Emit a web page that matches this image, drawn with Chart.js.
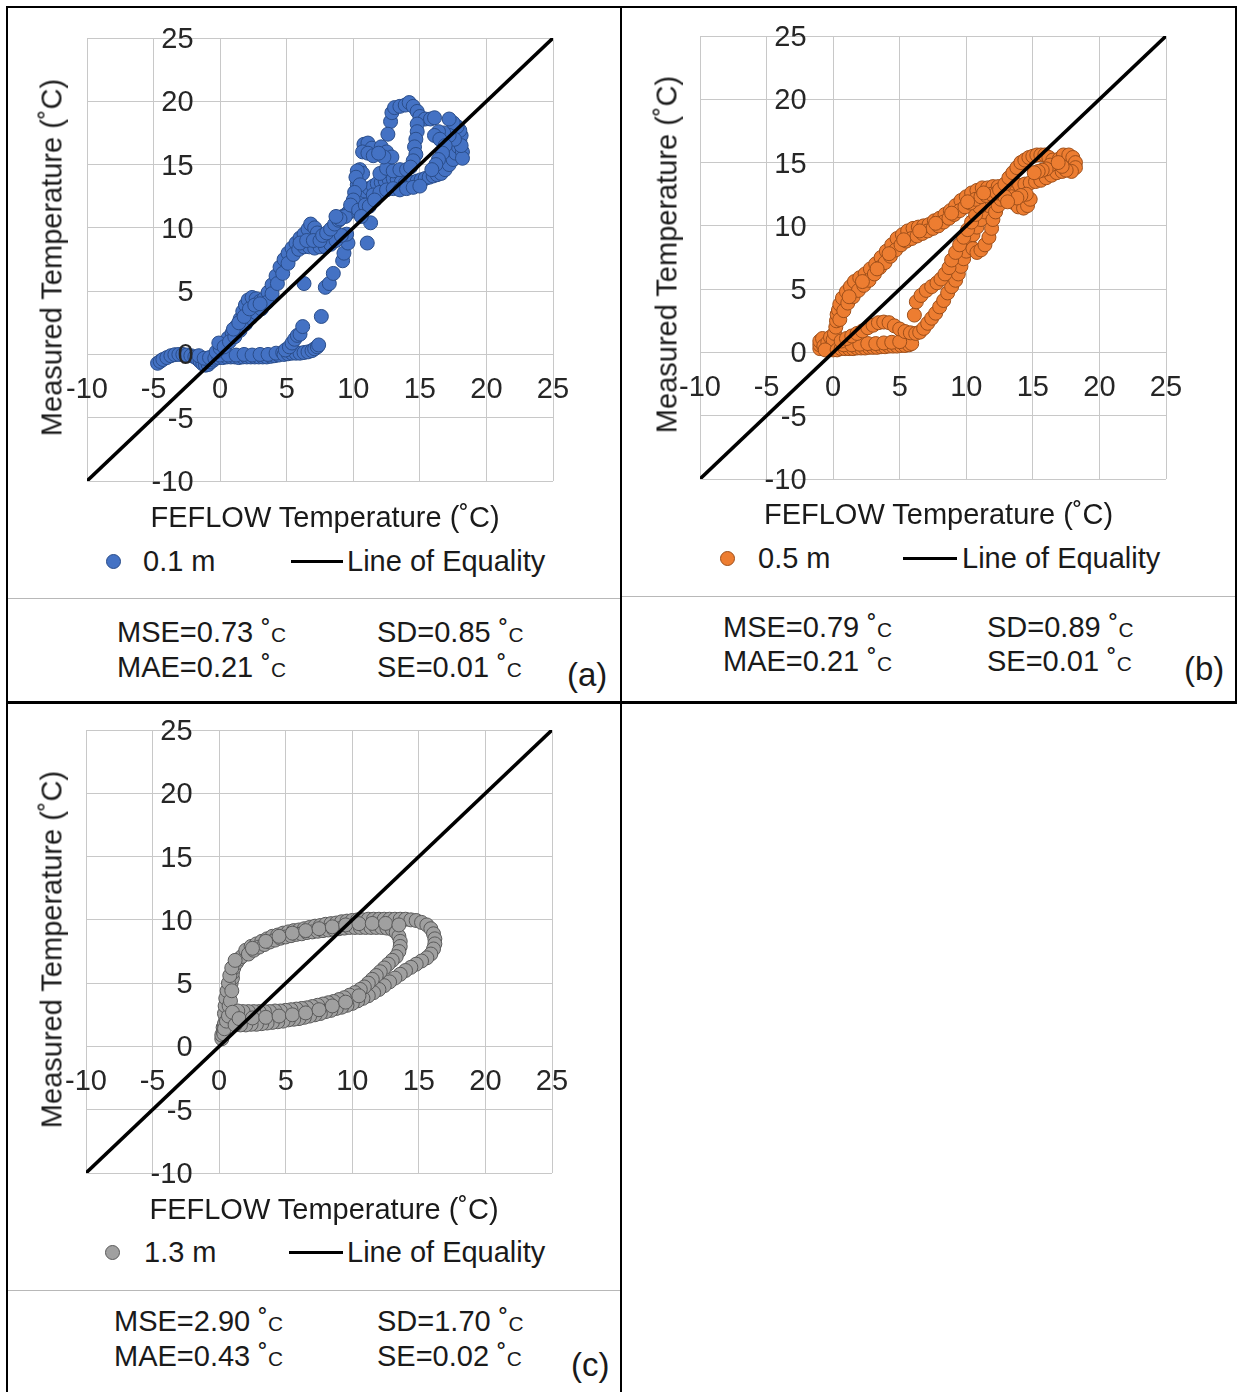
<!DOCTYPE html>
<html><head><meta charset="utf-8">
<script src="https://cdn.jsdelivr.net/npm/chart.js@4.4.1/dist/chart.umd.min.js"></script>
<style>
html,body{margin:0;padding:0;background:#fff;}
body{width:1246px;height:1392px;position:relative;overflow:hidden;font-family:"Liberation Sans",Arial,sans-serif;color:#1a1a1a;}
canvas{position:absolute;}
.t{position:absolute;font-size:29px;line-height:29px;white-space:nowrap;}
.ctr{width:600px;text-align:center;}
.rot{width:600px;height:29px;text-align:center;transform:rotate(-90deg);transform-origin:50% 50%;}
.tag{font-size:33px;line-height:33px;}
.bl{position:absolute;background:#000;}
.gl{position:absolute;background:#b8b8b8;height:1px;}
.dot{position:absolute;width:15px;height:15px;border-radius:50%;box-sizing:border-box;border:1px solid;}
.ln{position:absolute;height:3px;background:#000;}
.u{font-size:0.72em;}
</style></head><body>
<div class="bl" style="left:6px;top:6px;width:1231px;height:2px"></div>
<div class="bl" style="left:6px;top:6px;width:2px;height:1386px"></div>
<div class="bl" style="left:620px;top:6px;width:2px;height:1386px"></div>
<div class="bl" style="left:1235px;top:6px;width:2px;height:697px"></div>
<div class="bl" style="left:6px;top:701px;width:1231px;height:3px"></div>
<script>
// ---------------- DATA ----------------
const tickValues = [-10, -5, 0, 5, 10, 15, 20, 25];
const equalityLine = [-10, 25];
const seriesNames = ['0.1 m', '0.5 m', '1.3 m'];
const lineLabel = 'Line of Equality';
const xTitleText = 'FEFLOW Temperature (˚C)';
const yTitleText = 'Measured Temperature (˚C)';
const statsMSE = ['0.73', '0.79', '2.90'];
const statsMAE = ['0.21', '0.21', '0.43'];
const statsSD = ['0.85', '0.89', '1.70'];
const statsSE = ['0.01', '0.01', '0.02'];
const panelTags = ['(a)', '(b)', '(c)'];

// FEFLOW (x) vs measured (y), 0.1 m
const depth01m = [
[-4.7,-0.7],[-4.5,-0.55],[-4.3,-0.4],[-4.0,-0.25],[-3.7,-0.1],[-3.4,-0.02],[-3.1,0],[-2.8,0],[-2.5,-0.05],[-2.2,-0.1],
[-1.9,-0.2],[-1.7,-0.35],[-1.5,-0.55],[-1.3,-0.75],[-1.1,-0.85],[-0.9,-0.8],[-0.7,-0.6],[-0.5,-0.45],[-1.6,-0.1],[-1.2,-0.3],[-0.8,-0.25],
[-0.4,-0.3],[-0.1,-0.25],[0.2,-0.25],[0.5,-0.2],[0.8,-0.2],[1.1,-0.2],[1.4,-0.25],[1.7,-0.2],[2.0,-0.2],[2.3,-0.2],
[2.6,-0.2],[2.9,-0.2],[3.2,-0.2],[3.5,-0.2],[3.8,-0.15],[4.1,-0.1],[4.4,-0.05],
[0.0,-0.05],[0.6,-0.05],[1.2,-0.05],[1.8,0.0],[2.4,-0.05],[3.0,0.0],[3.6,0.0],[4.2,0.1],[4.7,0.15],
[4.8,0.0],[5.1,0.05],[5.4,0.1],[5.7,0.1],[6.0,0.1],[6.3,0.15],[6.6,0.2],[6.9,0.3],[7.1,0.45],[7.3,0.6],[7.4,0.75],
[4.9,0.35],[5.2,0.6],[5.4,0.9],[5.6,1.2],[5.8,1.5],[6.0,1.6],[6.2,2.2],
[7.6,3.0],[7.9,5.3],[8.2,5.6],[8.5,6.4],[9.2,7.4],[9.3,8.0],[9.6,8.8],[9.5,9.5],[6.3,5.6],
[-0.3,0.2],[0.0,0.5],[0.3,0.9],[0.6,1.3],[0.9,1.7],[1.2,2.2],[1.5,2.8],[1.7,3.4],[1.9,3.9],[2.1,4.3],[2.4,4.5],[2.7,4.4],
[3.0,4.2],[3.3,4.4],[3.6,4.9],[3.9,5.5],[4.2,6.2],[4.5,6.9],[4.8,7.5],[5.1,8.0],[5.4,8.4],[5.7,8.8],[6.0,9.2],[6.3,9.5],
[6.6,9.9],[6.8,10.3],[7.1,10.0],[7.3,9.6],
[-0.1,0.9],[0.3,0.6],[0.7,1.0],[1.1,1.4],[1.5,1.9],[1.9,2.4],[2.3,2.9],[2.7,3.3],[3.1,3.6],[3.5,4.1],[3.9,4.8],[4.3,5.6],
[4.7,6.4],[5.1,7.2],[5.5,7.9],[5.9,8.3],[6.3,8.5],[6.7,8.5],[7.1,8.4],[7.5,8.5],[7.9,8.5],[8.3,8.7],[8.7,9.0],[9.1,9.4],
[1.0,2.0],[1.4,2.5],[1.8,3.0],[2.2,3.6],[2.6,3.9],[3.0,4.0],[6.0,8.8],[6.5,9.0],[7.0,9.0],[7.5,9.0],[7.7,9.4],
[8.0,9.6],[8.3,9.9],[8.6,10.3],[8.9,10.6],[9.2,10.9],[9.5,11.1],[9.8,11.3],[10.0,11.8],[10.1,12.3],[10.2,12.9],[10.3,13.4],[10.4,14.0],[10.5,14.6],[10.7,14.3],
[10.6,12.6],[10.9,12.9],[11.2,13.1],[11.5,13.3],[11.8,13.5],[12.1,13.6],[12.4,13.7],[12.7,13.8],[13.0,13.9],[13.3,13.8],
[13.6,13.6],[13.9,13.5],[14.2,13.5],[14.5,13.6],[14.8,13.7],[15.1,13.8],[15.4,13.9],[15.7,14.0],[16.0,14.1],[16.3,14.2],
[16.6,14.3],[16.9,14.6],[17.2,15.0],[17.5,15.4],[17.7,15.9],[17.9,16.4],[18.0,16.9],[18.1,17.3],[18.0,17.7],[17.8,18.0],[17.5,18.3],[17.2,18.6],
[11.5,12.6],[12.0,12.8],[12.5,13.0],[13.0,13.1],[13.5,13.0],[14.0,13.1],[14.5,13.2],[15.0,13.3],
[12.0,14.3],[12.5,14.7],[13.0,14.5],[13.5,14.6],[14.0,14.6],
[18.2,16.0],[18.2,15.5],[18.1,16.5],[17.6,17.0],[17.2,17.3],[16.8,17.5],[16.4,17.6],[16.1,17.3],[16.5,17.0],[16.9,16.5],
[16.7,15.9],[16.4,15.4],[16.2,15.0],[15.9,14.6],
[12.8,18.4],[12.9,19.1],[13.1,19.5],[13.5,19.6],[13.9,19.7],[14.2,19.9],[14.5,19.6],[14.8,19.2],[15.0,18.8],[15.4,18.6],[15.8,18.6],[16.1,18.7],
[14.8,18.2],[14.8,17.6],[14.7,17.0],[14.6,16.4],[14.7,15.8],[14.5,15.3],[14.3,14.8],
[10.8,16.6],[11.1,16.7],[11.4,16.3],[10.7,16.0],[11.1,15.9],[11.5,15.7],[12.1,16.4],[12.5,16.0],[12.9,15.6],[12.3,15.6],[12.6,17.4],[11.9,15.9],
[10.3,14.5],[10.2,14.0],[10.5,13.4],[10.1,12.8],[10.0,12.2],[9.7,11.3],[9.4,10.9],[9.0,10.7],[8.7,10.9],[9.8,11.8],
[10.4,11.4],[10.9,11.8],[11.2,11.7],[11.6,12.2],[11.3,10.4],[11.05,8.8],[10.6,10.9]
];

// 0.5 m
const depth05m = [
[-1.0,0.3],[-1.0,0.6],[-1.0,0.9],[-0.8,1.1],[-0.7,0.5],[-0.5,0.3],[-0.4,0.8],[-0.2,1.2],[-0.2,0.4],[0.0,0.2],[0.1,0.6],
[0.0,1.0],[-0.6,0.2],[0.1,1.5],[0.2,2.0],[0.25,2.5],[0.3,3.0],[0.4,3.35],
[0.3,0.2],[0.6,0.3],[0.9,0.3],[1.2,0.3],[1.5,0.3],[1.8,0.35],[2.1,0.35],[2.4,0.35],[2.7,0.4],[3.0,0.4],[3.3,0.4],[3.6,0.45],
[3.9,0.45],[4.2,0.5],[4.5,0.5],[4.8,0.5],[5.1,0.55],[5.4,0.55],[5.7,0.6],[5.9,0.7],
[0.8,0.6],[1.4,0.6],[2.0,0.65],[2.6,0.7],[3.2,0.7],[3.8,0.75],[4.4,0.8],[5.0,0.85],
[0.6,0.9],[1.0,1.1],[1.4,1.3],[1.8,1.5],[2.2,1.7],[2.6,1.95],[3.0,2.15],[3.4,2.35],[3.8,2.4],[4.2,2.35],[4.6,2.1],
[5.0,1.85],[5.4,1.65],[5.8,1.55],[6.2,1.5],
[6.5,1.6],[6.8,1.9],[7.1,2.3],[7.4,2.7],[7.7,3.1],[8.0,3.6],[8.3,4.1],[8.6,4.7],[8.9,5.2],[9.2,5.7],[9.4,6.2],[9.6,6.8],
[9.8,7.4],[10.0,8.0],[10.2,8.7],[10.5,9.3],[10.8,9.9],[11.1,10.5],[11.4,11.1],[11.7,11.6],
[6.1,2.95],[6.25,4.0],[6.6,4.5],[7.0,4.9],[7.4,5.2],[7.8,5.5],[8.1,5.8],[8.4,6.2],[8.7,6.7],[8.9,7.3],[9.2,7.9],[9.5,8.5],
[9.8,9.1],[10.1,9.7],[10.4,10.3],[10.7,10.9],[11.0,11.5],
[10.5,8.2],[10.8,7.9],[11.1,8.1],[11.4,8.5],[11.7,9.1],[11.9,9.8],[12.0,10.5],[12.2,11.1],[12.4,11.6],[12.6,12.1],[12.8,12.6],
[0.5,3.8],[0.7,4.3],[1.0,4.8],[1.3,5.2],[1.6,5.6],[2.0,5.9],[2.4,6.2],[2.8,6.6],[3.2,7.0],[3.6,7.5],[4.0,8.0],[4.4,8.5],
[4.8,9.0],[5.2,9.3],[5.6,9.6],[6.0,9.8],[6.4,9.9],[6.8,10.0],[7.2,10.1],[7.6,10.4],[8.0,10.6],[8.4,10.9],[8.8,11.2],[9.2,11.6],
[9.6,12.0],[10.0,12.3],[10.4,12.6],[10.8,12.8],[11.2,13.0],[11.6,13.0],[12.0,13.1],[12.4,13.1],[12.8,13.0],[13.2,13.0],
[13.6,13.1],[14.0,13.2],[14.4,13.3],[14.8,13.4],[15.2,13.5],[15.6,13.6],[16.0,13.8],[16.4,14.0],[16.8,14.2],[17.2,14.3],[17.6,14.5],[17.9,14.7],
[0.5,2.6],[0.8,3.3],[1.1,3.9],[1.5,4.4],[1.9,4.9],[2.3,5.3],[2.7,5.7],[3.1,6.2],[3.5,6.7],[3.9,7.1],[4.3,7.6],[4.7,8.1],
[5.1,8.5],[5.5,8.8],[5.9,9.0],[6.3,9.2],[6.7,9.4],[7.1,9.6],[7.5,9.8],[7.9,10.0],[8.3,10.3],[8.7,10.6],[9.1,10.9],[9.5,11.2],
[9.9,11.5],[10.3,11.8],[10.7,12.1],[11.1,12.3],[11.5,12.4],[11.9,12.5],[12.3,12.6],[12.7,12.7],[13.1,12.7],
[1.2,4.4],[2.2,5.6],[3.3,6.6],[4.2,7.8],[5.3,8.9],[6.5,9.6],[7.7,10.2],[8.9,11.0],[10.1,11.9],[11.3,12.6],[12.5,12.85],
[12.9,13.3],[13.2,13.8],[13.5,14.2],[13.8,14.6],[14.1,15.0],[14.4,15.2],[14.7,15.4],[15.0,15.5],[15.3,15.6],[15.6,15.6],
[15.9,15.6],[16.2,15.4],[16.5,15.2],[16.3,14.8],[16.0,14.5],[15.7,14.4],[15.4,14.3],[15.1,14.2],
[17.0,15.3],[17.3,15.6],[17.7,15.6],[18.0,15.4],[18.2,15.0],[18.2,14.6],[17.9,14.3],[17.5,14.4],[17.2,14.7],[16.9,15.0],
[13.4,12.3],[13.6,11.8],[13.9,11.5],[14.3,11.4],[14.6,11.6],[14.8,12.1],[14.5,12.5],[14.1,12.4],[13.8,12.2],[12.9,12.3],[13.1,11.9]
];

// 1.3 m
const depth13m = [
[0.2,0.6],[0.2,0.9],[0.3,1.2],[0.3,1.5],[0.4,1.8],[0.5,2.2],[0.5,2.6],[0.6,3.0],[0.6,3.4],[0.7,3.8],[0.8,4.2],[0.8,4.6],
[0.9,5.0],[1.0,5.4],[1.0,5.8],[1.1,6.2],[1.3,6.6],[1.5,6.9],[1.7,7.1],
[0.4,2.6],[0.45,3.2],[0.5,3.8],[0.6,4.4],[0.7,5.0],[0.8,5.6],[0.95,6.2],[1.2,6.8],
[0.35,1.0],[0.4,1.4],[0.55,2.0],[0.7,2.4],[0.75,3.2],[0.85,3.6],[0.95,4.4],
[2.0,7.6],[2.4,7.9],[2.8,8.1],[3.2,8.3],[3.6,8.5],[4.0,8.7],[4.4,8.8],[4.8,8.95],[5.2,9.05],[5.6,9.15],[6.0,9.2],[6.4,9.3],
[6.8,9.4],[7.2,9.5],[7.6,9.55],[8.0,9.65],[8.4,9.7],[8.8,9.75],[9.2,9.85],[9.6,9.9],[10.0,9.95],[10.4,10.0],[10.8,10.0],
[11.2,10.05],[11.6,10.05],[12.0,10.05],[12.4,10.05],[12.8,10.05],[13.2,10.05],[13.6,10.05],[14.0,10.05],[14.4,10.0],[14.8,9.95],
[15.2,9.8],[15.6,9.6],[15.9,9.3],[16.1,8.9],[16.2,8.5],[16.2,8.1],[16.1,7.7],[15.9,7.3],[15.6,7.0],[15.2,6.75],[14.8,6.5],
[14.4,6.25],[14.0,6.0],[13.6,5.7],[13.2,5.4],[12.8,5.1],[12.4,4.8],[12.0,4.5],[11.6,4.25],[11.2,4.0],[10.8,3.8],[10.4,3.6],
[10.0,3.4],[9.6,3.25],[9.2,3.1],[8.8,3.0],[8.4,2.85],[8.0,2.75],[7.6,2.6],[7.2,2.5],[6.8,2.4],[6.4,2.3],[6.0,2.2],[5.6,2.15],
[5.2,2.1],[4.8,2.0],[4.4,1.95],[4.0,1.9],[3.6,1.85],[3.2,1.8],[2.8,1.75],[2.4,1.75],[2.0,1.7],[1.6,1.7],[1.2,1.7],
[2.2,7.3],[2.6,7.6],[3.0,7.85],[3.4,8.05],[3.8,8.25],[4.2,8.4],[4.6,8.55],[5.0,8.65],[5.4,8.75],[5.8,8.85],[6.2,8.9],
[6.6,9.0],[7.0,9.05],[7.4,9.1],[7.8,9.15],[8.2,9.2],[8.6,9.25],[9.0,9.3],[9.4,9.35],[9.8,9.4],[10.2,9.4],[10.6,9.4],
[11.0,9.4],[11.4,9.4],[11.8,9.4],[12.2,9.4],[12.6,9.35],[13.0,9.25],[13.3,9.0],[13.5,8.7],[13.6,8.3],[13.6,7.9],[13.5,7.5],
[13.3,7.1],[13.0,6.8],[12.7,6.5],[12.4,6.2],[12.1,5.9],[11.8,5.6],[11.5,5.3],[11.2,5.0],[10.9,4.7],[10.6,4.5],[10.2,4.25],
[9.8,4.05],[9.4,3.85],[9.0,3.7],[8.6,3.55],[8.2,3.45],[7.8,3.35],[7.4,3.25],[7.0,3.15],[6.6,3.05],[6.2,3.0],[5.8,2.95],
[5.4,2.9],[5.0,2.85],[4.6,2.8],[4.2,2.8],[3.8,2.75],[3.4,2.75],[3.0,2.75],[2.6,2.75],[2.2,2.75],[1.8,2.75],[1.4,2.8],[1.0,2.7],
[2.5,7.75],[3.5,8.3],[4.5,8.7],[5.5,8.95],[6.5,9.15],[7.5,9.3],[8.5,9.45],[9.5,9.6],[10.5,9.7],[11.5,9.72],[12.5,9.72],[13.5,9.6],
[1.5,2.2],[2.5,2.25],[3.5,2.3],[4.5,2.4],[5.5,2.5],[6.5,2.65],[7.5,2.9],[8.5,3.2],[9.5,3.5],[10.5,4.0]
];

// ---------------- LAYOUT ----------------
const FONT = '"Liberation Sans", Arial, sans-serif';
const panels = [
  {data: depth01m, fill: '#4472c4', edge: '#2a4d8a',
   canvas: {left: 7, top: 8, w: 613, h: 520}, area: {left: 87, top: 38, right: 553, bottom: 481},
   xt: {cx: 325, cy: 517}, yt: {cx: 51.5, cy: 257}, lg: {cy: 561, dot: 113, name: 143, l1: 291, l2: 343, text: 347},
   st: {y1: 632.5, y2: 667.5, c1: 117, c2: 377}, tag: {x: 567, cy: 677}, div: {y: 598, x1: 8, x2: 620}},
  {data: depth05m, fill: '#ed7d31', edge: '#9e4f1a',
   canvas: {left: 622, top: 6, w: 613, h: 520}, area: {left: 700, top: 36, right: 1166, bottom: 479},
   xt: {cx: 938.5, cy: 514}, yt: {cx: 666.5, cy: 254.5}, lg: {cy: 558, dot: 727, name: 758, l1: 903, l2: 957, text: 962},
   st: {y1: 627, y2: 661.5, c1: 723, c2: 987}, tag: {x: 1184, cy: 671}, div: {y: 596, x1: 622, x2: 1235}},
  {data: depth13m, fill: '#a0a0a0', edge: '#5a5a5a',
   canvas: {left: 7, top: 704, w: 613, h: 520}, area: {left: 86, top: 730, right: 552, bottom: 1173},
   xt: {cx: 324, cy: 1209}, yt: {cx: 51.5, cy: 949.5}, lg: {cy: 1252, dot: 112.5, name: 144, l1: 289, l2: 343, text: 347},
   st: {y1: 1321, y2: 1356, c1: 114, c2: 377}, tag: {x: 571, cy: 1367}, div: {y: 1290, x1: 8, x2: 620}}
];

function addDiv(cls, html, style) {
  const d = document.createElement('div');
  d.className = cls; d.innerHTML = html;
  Object.assign(d.style, style);
  document.body.appendChild(d);
  return d;
}

panels.forEach((p, i) => {
  const cv = document.createElement('canvas');
  cv.width = p.canvas.w; cv.height = p.canvas.h;
  Object.assign(cv.style, {left: p.canvas.left + 'px', top: p.canvas.top + 'px', width: p.canvas.w + 'px', height: p.canvas.h + 'px'});
  document.body.appendChild(cv);
  const pad = {
    left: p.area.left - p.canvas.left,
    top: p.area.top - p.canvas.top,
    right: p.canvas.left + p.canvas.w - p.area.right,
    bottom: p.canvas.top + p.canvas.h - p.area.bottom
  };
  const tickCfg = {
    autoSkip: false, maxRotation: 0, minRotation: 0, z: 1,
    font: {family: FONT, size: 29}, color: '#262626',
    callback: v => String(v)
  };
  const setTicks = axis => { axis.ticks = tickValues.map(v => ({value: v})); };
  new Chart(cv, {
    type: 'scatter',
    data: {
      datasets: [
        {label: lineLabel, data: equalityLine.map(v => ({x: v, y: v})), showLine: true,
         borderColor: '#000', borderWidth: 3.5, pointRadius: 0, order: 0},
        {label: seriesNames[i], data: p.data.map(([x, y]) => ({x, y})),
         backgroundColor: p.fill, borderColor: p.edge, borderWidth: 1, pointRadius: 7, order: 1}
      ]
    },
    options: {
      responsive: false, animation: false, devicePixelRatio: 1,
      layout: {padding: pad},
      plugins: {legend: {display: false}, tooltip: {enabled: false}},
      scales: {
        x: {type: 'linear', min: tickValues[0], max: tickValues[tickValues.length - 1], position: {y: 0},
            afterBuildTicks: setTicks,
            ticks: Object.assign({padding: 18}, tickCfg),
            grid: {color: '#c8c8c8', lineWidth: 1, drawTicks: false},
            border: {display: true, color: '#c8c8c8', width: 1}},
        y: {type: 'linear', min: tickValues[0], max: tickValues[tickValues.length - 1], position: {x: -2},
            afterBuildTicks: setTicks,
            ticks: Object.assign({padding: 0, labelOffset: 2}, tickCfg),
            grid: {color: '#c8c8c8', lineWidth: 1, drawTicks: false},
            border: {display: false}}
      }
    }
  });

  // axis titles
  addDiv('t ctr', xTitleText, {left: (p.xt.cx - 300) + 'px', top: (p.xt.cy - 14.1) + 'px'});
  addDiv('t rot', yTitleText, {left: (p.yt.cx - 300) + 'px', top: (p.yt.cy - 14.5) + 'px'});
  // legend
  addDiv('dot', '', {left: (p.lg.dot - 7.5) + 'px', top: (p.lg.cy - 7.5) + 'px', background: p.fill, borderColor: p.edge});
  addDiv('t', seriesNames[i], {left: p.lg.name + 'px', top: (p.lg.cy - 14.1) + 'px'});
  addDiv('ln', '', {left: p.lg.l1 + 'px', width: (p.lg.l2 - p.lg.l1) + 'px', top: (p.lg.cy - 1.5) + 'px'});
  addDiv('t', lineLabel, {left: p.lg.text + 'px', top: (p.lg.cy - 14.1) + 'px'});
  // divider
  addDiv('gl', '', {left: p.div.x1 + 'px', width: (p.div.x2 - p.div.x1) + 'px', top: p.div.y + 'px'});
  // stats
  const unit = ' ˚<span class="u">C</span>';
  addDiv('t', 'MSE=' + statsMSE[i] + unit, {left: p.st.c1 + 'px', top: (p.st.y1 - 14.1) + 'px'});
  addDiv('t', 'MAE=' + statsMAE[i] + unit, {left: p.st.c1 + 'px', top: (p.st.y2 - 14.1) + 'px'});
  addDiv('t', 'SD=' + statsSD[i] + unit, {left: p.st.c2 + 'px', top: (p.st.y1 - 14.1) + 'px'});
  addDiv('t', 'SE=' + statsSE[i] + unit, {left: p.st.c2 + 'px', top: (p.st.y2 - 14.1) + 'px'});
  addDiv('t tag', panelTags[i], {left: p.tag.x + 'px', top: (p.tag.cy - 19.4) + 'px'});
});
</script>
</body></html>
